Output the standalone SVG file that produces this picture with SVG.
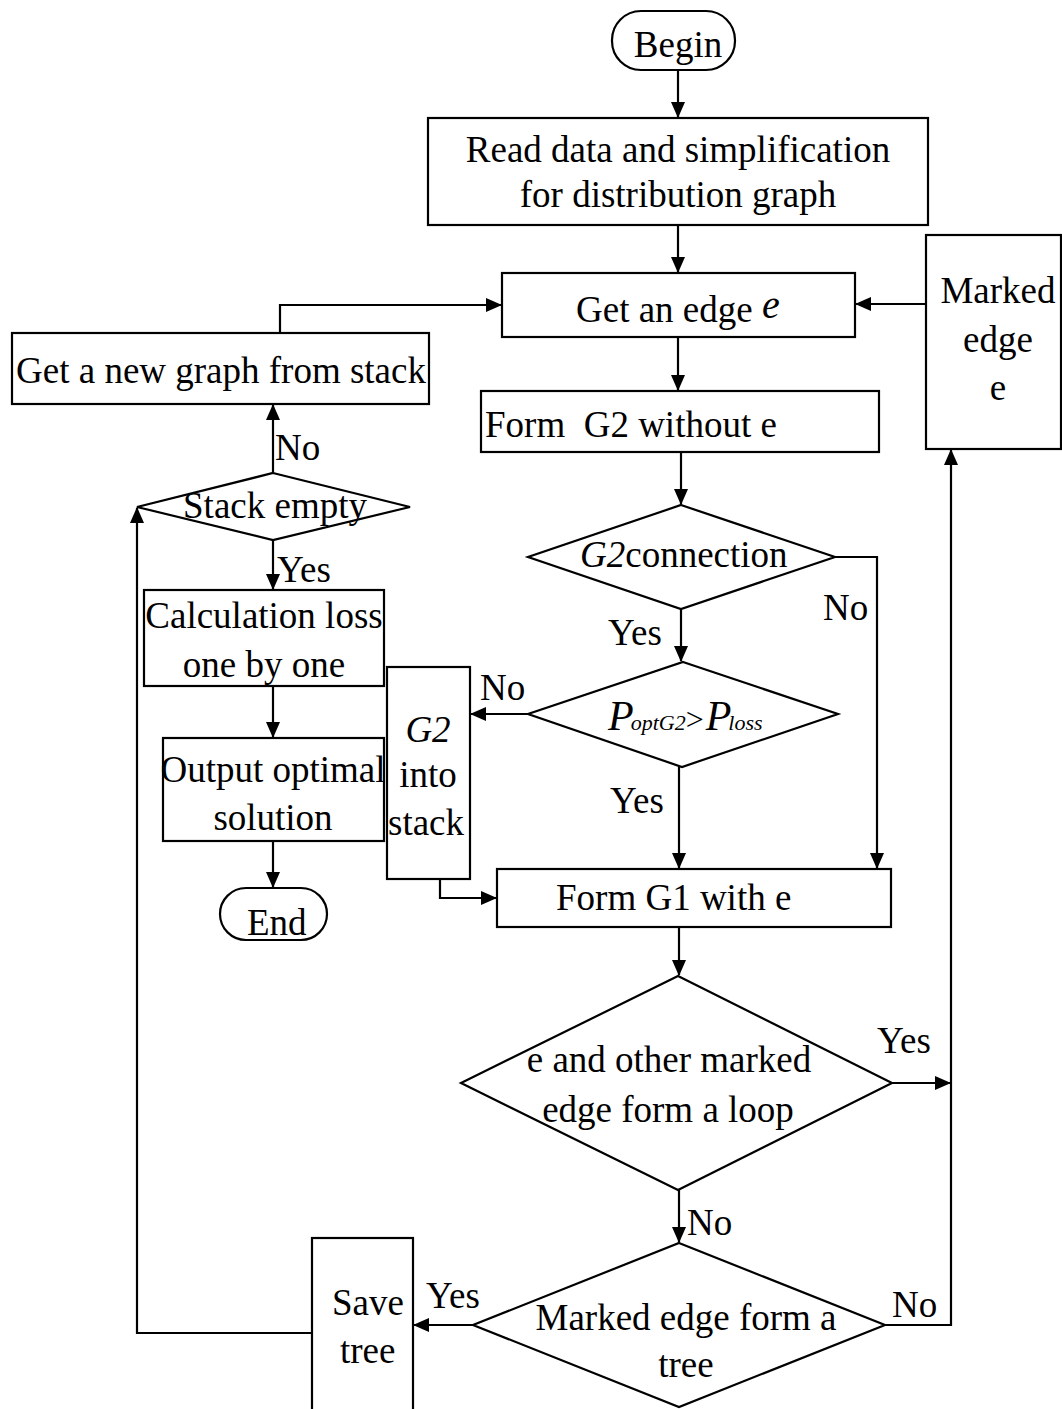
<svg xmlns="http://www.w3.org/2000/svg" width="1062" height="1409" viewBox="0 0 1062 1409">
<style>
.s{fill:#fff;stroke:#000;stroke-width:2.2}
.c{fill:none;stroke:#000;stroke-width:2.2}
text{font-family:"Liberation Serif","Times New Roman",serif;font-size:37px;fill:#000}
.m{text-anchor:middle}
.i{font-style:italic}
</style>
<defs>
<marker id="a" markerUnits="userSpaceOnUse" markerWidth="16" markerHeight="14" refX="15" refY="7" orient="auto">
<path d="M0,0 L16,7 L0,14 Z" fill="#000"/>
</marker>
</defs>
<rect width="1062" height="1409" fill="#fff"/>
<g id="connectors">
<path class="c" d="M678,70 V117" marker-end="url(#a)"/>
<path class="c" d="M678,225 V272" marker-end="url(#a)"/>
<path class="c" d="M280,333 V305 H501" marker-end="url(#a)"/>
<path class="c" d="M926,304 H856" marker-end="url(#a)"/>
<path class="c" d="M678,337 V390" marker-end="url(#a)"/>
<path class="c" d="M681,452 V504" marker-end="url(#a)"/>
<path class="c" d="M681,609 V661" marker-end="url(#a)"/>
<path class="c" d="M835,557 H877 V868" marker-end="url(#a)"/>
<path class="c" d="M528,714 H471" marker-end="url(#a)"/>
<path class="c" d="M679,767 V868" marker-end="url(#a)"/>
<path class="c" d="M440,879 V898 H496" marker-end="url(#a)"/>
<path class="c" d="M679,927 V975" marker-end="url(#a)"/>
<path class="c" d="M892,1083 H950" marker-end="url(#a)"/>
<path class="c" d="M679,1190 V1242" marker-end="url(#a)"/>
<path class="c" d="M473,1325 H414" marker-end="url(#a)"/>
<path class="c" d="M885,1325 H951 V450" marker-end="url(#a)"/>
<path class="c" d="M312,1333 H137 V508" marker-end="url(#a)"/>
<path class="c" d="M273,473 V405" marker-end="url(#a)"/>
<path class="c" d="M273,540 V589" marker-end="url(#a)"/>
<path class="c" d="M273,686 V737" marker-end="url(#a)"/>
<path class="c" d="M273,841 V887" marker-end="url(#a)"/>
</g>
<g id="begin">
<rect class="s" x="612" y="11" width="123" height="59" rx="29" ry="29"/>
<text class="m" x="678" y="57" font-size="39">Begin</text>
</g>
<g id="read">
<rect class="s" x="428" y="118" width="500" height="107"/>
<text class="m" x="678" y="162">Read data and simplification</text>
<text class="m" x="678" y="207">for distribution graph</text>
</g>
<g id="get-edge">
<rect class="s" x="502" y="273" width="353" height="64"/>
<text x="576" y="322">Get an edge <tspan class="i" font-size="40" dy="-4">e</tspan></text>
</g>
<g id="marked">
<rect class="s" x="926" y="235" width="135" height="214"/>
<text class="m" x="998" y="303">Marked</text>
<text class="m" x="998" y="352">edge</text>
<text class="m" x="998" y="400">e</text>
</g>
<g id="new-graph">
<rect class="s" x="12" y="333" width="417" height="71"/>
<text class="m" x="221" y="383">Get a new graph from stack</text>
</g>
<g id="form-g2">
<rect class="s" x="481" y="391" width="398" height="61"/>
<text x="485" y="437" style="white-space:pre">Form  G2 without e</text>
</g>
<g id="g2-connection">
<polygon class="s" points="681,505 835,557 681,609 528,557"/>
<text x="580" y="567"><tspan class="i">G2</tspan>connection</text>
</g>
<g id="stack-empty">
<polygon class="s" points="273,473 410,507 273,540 137,507"/>
<text class="m" x="275" y="518">Stack empty</text>
</g>
<g id="calc">
<rect class="s" x="144" y="590" width="240" height="96"/>
<text class="m" x="264" y="628">Calculation loss</text>
<text class="m" x="264" y="677">one by one</text>
</g>
<g id="output">
<rect class="s" x="163" y="738" width="221" height="103"/>
<text class="m" x="273" y="782">Output optimal</text>
<text class="m" x="273" y="830">solution</text>
</g>
<g id="end">
<rect class="s" x="220" y="888" width="107" height="52" rx="26" ry="26"/>
<text x="247" y="935">End</text>
</g>
<g id="g2-stack">
<rect class="s" x="387" y="667" width="83" height="212"/>
<text class="m i" x="428" y="742">G2</text>
<text class="m" x="428" y="787">into</text>
<text class="m" x="426" y="835">stack</text>
</g>
<g id="p-compare">
<polygon class="s" points="683,662 838,714 682,767 528,714"/>
<text x="608" y="730" class="i"><tspan font-size="42">P</tspan><tspan font-size="22" dx="-3">optG2</tspan><tspan font-style="normal" font-size="32">&gt;</tspan><tspan font-size="42" dx="2">P</tspan><tspan font-size="22" dx="-3">loss</tspan></text>
</g>
<g id="form-g1">
<rect class="s" x="497" y="869" width="394" height="58"/>
<text x="556" y="910">Form G1 with e</text>
</g>
<g id="loop">
<polygon class="s" points="678,976 892,1083 678,1190 461,1083"/>
<text class="m" x="669" y="1072">e and other marked</text>
<text class="m" x="668" y="1122">edge form a loop</text>
</g>
<g id="tree-check">
<polygon class="s" points="679,1243 885,1325 679,1407 473,1325"/>
<text class="m" x="686" y="1330">Marked edge form a</text>
<text class="m" x="686" y="1377">tree</text>
</g>
<g id="save-tree">
<rect class="s" x="312" y="1238" width="101" height="190"/>
<text x="332" y="1315">Save</text>
<text x="340" y="1363">tree</text>
</g>
<g id="labels">
<text x="275" y="460">No</text>
<text x="277" y="582">Yes</text>
<text x="608" y="645">Yes</text>
<text x="823" y="620">No</text>
<text x="480" y="700">No</text>
<text x="610" y="813">Yes</text>
<text x="877" y="1053">Yes</text>
<text x="687" y="1235">No</text>
<text x="426" y="1308">Yes</text>
<text x="892" y="1317">No</text>
</g>
</svg>
